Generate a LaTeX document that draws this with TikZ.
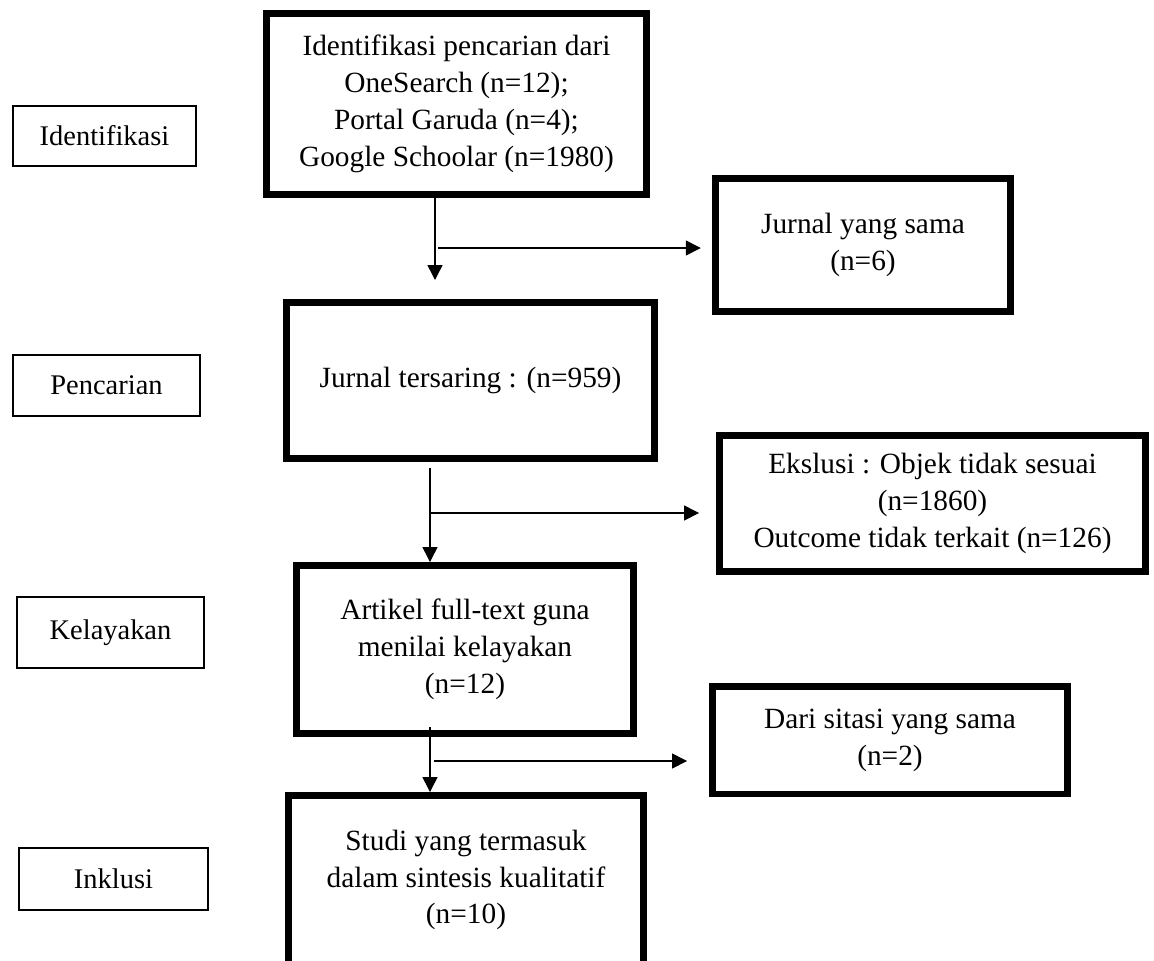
\documentclass[tikz,border=0pt]{standalone}
\usepackage{fontspec}
\setmainfont{Liberation Serif}
\usetikzlibrary{arrows.meta,calc}
\begin{document}
\begin{tikzpicture}[x=0.02cm,y=-0.02cm,
  every node/.style={font=\fontsize{16.7}{21}\selectfont, align=center, inner sep=0pt},
  bigbox/.style={draw=black, line width=0.13cm},
  lblbox/.style={draw=black, line width=0.046cm, font=\fontsize{16.2}{21}\selectfont},
  arr/.style={draw=black, line width=0.03cm, -{Triangle[length=0.3cm,width=0.3cm]}}]
\useasboundingbox (0,0) rectangle (1154,961);
\clip (0,0) rectangle (1154,961);
\fill[white] (0,0) rectangle (1154,961);

% stage labels
\node[lblbox, minimum width=3.65cm, minimum height=1.19cm] (l1) at (104.5,136) {Identifikasi};
\node[lblbox, minimum width=3.73cm, minimum height=1.21cm] (l2) at (106.5,385.5) {Pencarian};
\node[lblbox, minimum width=3.73cm, minimum height=1.41cm] (l3) at (110.5,632.5) {Kelayakan};
\node[lblbox, minimum width=3.77cm, minimum height=1.23cm] (l4) at (113.5,879) {Inklusi};

% main boxes
\node[bigbox, minimum width=7.61cm, minimum height=3.63cm] (b1) at (456.5,104)
  {Identifikasi pencarian dari\\OneSearch (n=12);\\Portal Garuda (n=4);\\Google Schoolar (n=1980)};

\node[bigbox, minimum width=5.91cm, minimum height=2.67cm] (b2) at (863,245)
  {Jurnal yang sama\\(n=6)};

\node[bigbox, minimum width=7.37cm, minimum height=3.13cm] (b3) at (470.5,380.5)
  {Jurnal tersaring : (n=959)};

\node[bigbox, minimum width=8.53cm, minimum height=2.73cm] (b4) at (932.5,503.5)
  {Ekslusi : Objek tidak sesuai\\(n=1860)\\Outcome tidak terkait (n=126)};

\node[bigbox, minimum width=6.75cm, minimum height=3.37cm] (b5) at (465,649.5)
  {Artikel full-text guna\\menilai kelayakan\\(n=12)};

\node[bigbox, minimum width=7.11cm, minimum height=2.15cm] (b6) at (890,740)
  {Dari sitasi yang sama\\(n=2)};

\node[bigbox, minimum width=7.11cm, minimum height=3.39cm] (b7) at (466,880)
  {Studi yang termasuk\\dalam sintesis kualitatif\\(n=10)};

% connectors
\coordinate (a1) at (435,280);
\draw[arr] (b1.south -| a1) -- (a1);
\coordinate (h1) at (438,248);
\draw[arr, shorten >=0.225cm] (h1) -- (h1 -| b2.west);

\coordinate (a2) at (430,468);
\draw[arr] (a2) -- (a2 |- b5.north);
\coordinate (h2) at (430,513);
\draw[arr, shorten >=0.34cm] (h2) -- (h2 -| b4.west);

\coordinate (a3) at (430,727);
\draw[arr] (a3) -- (a3 |- b7.north);
\coordinate (h3) at (434,761);
\draw[arr, shorten >=0.44cm] (h3) -- (h3 -| b6.west);
\end{tikzpicture}
\end{document}
